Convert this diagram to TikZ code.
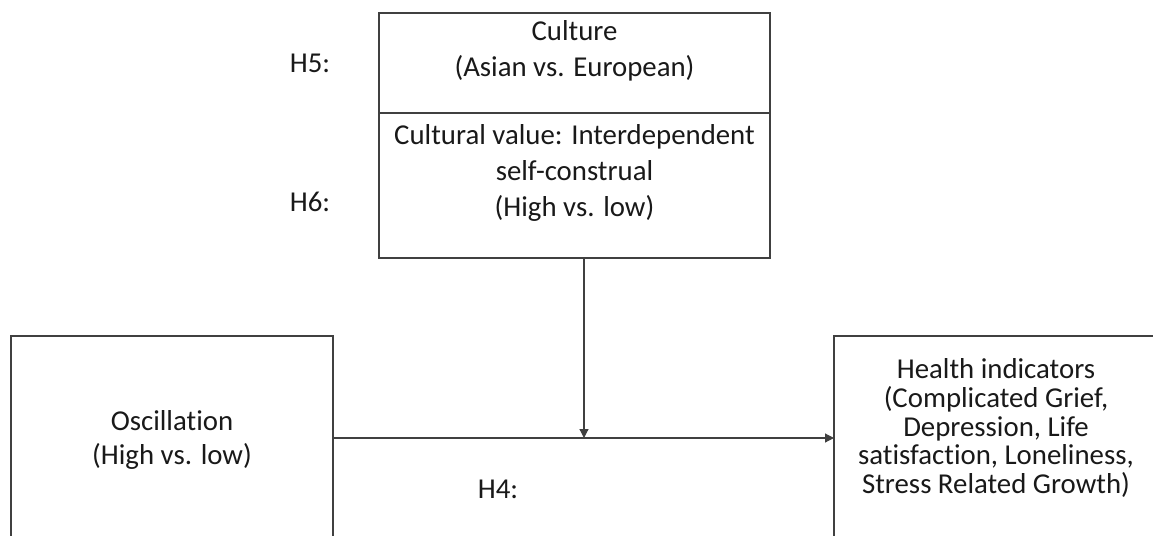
\documentclass[tikz,border=0pt]{standalone}
\usepackage{fontspec}
\setmainfont{Carlito}[Ligatures=NoCommon]
\usetikzlibrary{positioning,arrows.meta}
\tikzset{
  blk/.style={draw=black!75,line width=0.6pt,inner sep=0pt,outer sep=0pt},
  txt/.style={align=center,inner sep=0pt,text=black!90,font=\fontsize{14.4}{17.8}\selectfont},
  link/.style={-{Triangle[length=4.5pt,width=4.5pt]},draw=black!75,line width=0.6pt},
}
\begin{document}
\begin{tikzpicture}[x=0.5pt,y=-0.5pt]
  \useasboundingbox (0,0) rectangle (1153,536);
  \clip (0,0) rectangle (1153,536);
  % moderator box, split in two
  \node[blk,minimum width=195.5pt,minimum height=50pt] (culture) at (574.5,63) {};
  \node[blk,minimum width=195.5pt,minimum height=72.5pt,below=0pt of culture] (value) {};
  \node[txt] (culturetxt) at (574.5,51) {Culture\\(Asian vs. European)};
  \node[txt] (valuetxt) at (574.5,173) {Cultural value: Interdependent\\self-construal\\(High vs. low)};
  % predictor and outcome
  \node[blk,minimum width=161pt,minimum height=102pt] (osc) at (172,438) {};
  \node[txt,font=\fontsize{14.4}{17}\selectfont] (osctxt) at (172,440) {Oscillation\\(High vs. low)};
  \node[blk,minimum width=162pt,minimum height=102pt] (health) at (996,438) {};
  \node[txt,font=\fontsize{14.4}{14.3}\selectfont] (healthtxt) at (996,428)
    {Health indicators\\(Complicated Grief,\\Depression, Life\\satisfaction, Loneliness,\\Stress Related Growth)};
  % hypothesis labels
  \node[txt] (h5) at (310,63.5) {H5:};
  \node[txt] (h6) at (310,201.5) {H6:};
  \node[txt] (h4) at (498,489) {H4:};
  % paths
  \coordinate (join) at (584,438);
  \draw[link] (osc.east) -- (health.west);
  \draw[link] (value.south -| join) -- (join);
\end{tikzpicture}
\end{document}
